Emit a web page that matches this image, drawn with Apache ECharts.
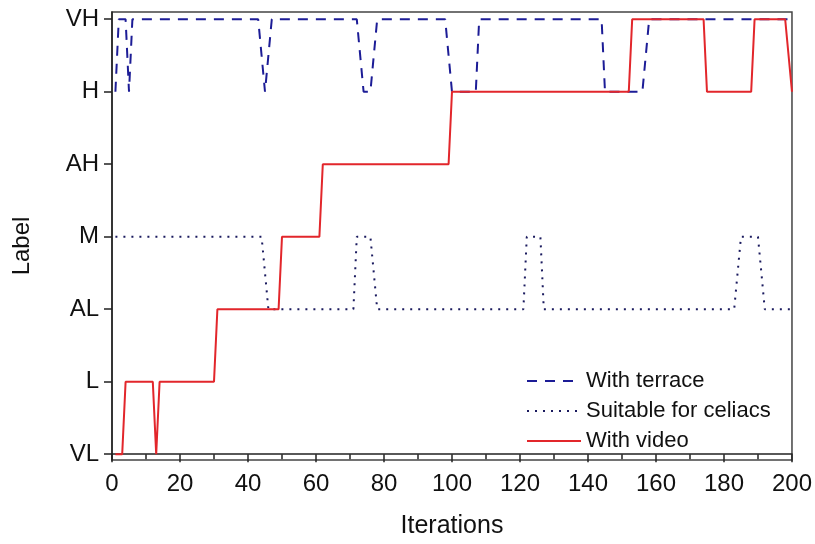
<!DOCTYPE html>
<html>
<head>
<meta charset="utf-8">
<script src="https://cdn.jsdelivr.net/npm/echarts@6/dist/echarts.min.js"></script>
<style>
  html, body { margin: 0; padding: 0; background: #fff; }
  #chart { width: 815px; height: 544px; }
</style>
</head>
<body>
<div id="chart"></div>
<script>
// level names, bottom to top
const levels = ['VL', 'L', 'AL', 'M', 'AH', 'H', 'VH'];
const xTicks = [0, 20, 40, 60, 80, 100, 120, 140, 160, 180, 200];

// breakpoints (iteration, level index)
const terraceX = [1, 2, 4, 5, 6, 43, 45, 47, 72, 74, 76, 78, 98, 100, 107, 108, 144, 145, 156, 158, 200];
const terraceY = [5, 6, 6, 5, 6, 6, 5, 6, 6, 5, 5, 6, 6, 5, 5, 6, 6, 5, 5, 6, 6];

const celiacX = [1, 44, 46, 71, 72, 76, 78, 121, 122, 126, 127, 183, 185, 190, 192, 200];
const celiacY = [3, 3, 2, 2, 3, 3, 2, 2, 3, 3, 2, 2, 3, 3, 2, 2];

const videoX = [1, 3, 4, 12, 13, 14, 30, 31, 49, 50, 61, 62, 99, 100, 152, 153, 174, 175, 188, 189, 198, 200];
const videoY = [0, 0, 1, 1, 0, 1, 1, 2, 2, 3, 3, 4, 4, 5, 5, 6, 6, 5, 5, 6, 6, 5];

function pairs(xs, ys) {
    return xs.map((x, i) => [x, ys[i]]);
}

const myChart = echarts.init(document.getElementById('chart'));
const font = 'Liberation Sans, Arial, sans-serif';
const option = {
    animation: false,
    backgroundColor: '#fff',
    grid: {
        left: 112, right: 22, top: 12, bottom: 81,
        show: true, borderColor: '#444', borderWidth: 1.5
    },
    legend: {
        left: 521, top: 365,
        orient: 'vertical',
        itemWidth: 54, itemHeight: 22, itemGap: 8,
        itemStyle: { opacity: 0 },
        textStyle: { fontFamily: font, fontSize: 22, lineHeight: 22, color: '#111' },
        data: ['With terrace', 'Suitable for celiacs', 'With video']
    },
    xAxis: {
        type: 'value',
        min: 0, max: 200, interval: 20,
        name: 'Iterations',
        nameLocation: 'middle',
        nameGap: 54,
        nameTextStyle: { fontFamily: font, fontSize: 25, color: '#111' },
        axisLine: { lineStyle: { color: '#222', width: 1.5 } },
        axisTick: { length: 8, lineStyle: { color: '#222', width: 1.5 } },
        minorTick: { show: true, splitNumber: 2, length: 5, lineStyle: { color: '#222', width: 1.5 } },
        axisLabel: { fontFamily: font, fontSize: 24, color: '#111', margin: 12,
            customValues: xTicks },
        splitLine: { show: false }
    },
    yAxis: {
        type: 'value',
        min: -0.08, max: 6.1,
        name: 'Label',
        nameLocation: 'middle',
        nameGap: 78,
        nameRotate: 90,
        nameTextStyle: { fontFamily: font, fontSize: 24, color: '#111', padding: [0, 20, 0, 0] },
        axisLine: { show: true, lineStyle: { color: '#222', width: 1.5 } },
        axisTick: { show: true, length: 8, lineStyle: { color: '#222', width: 1.5 },
            customValues: [0, 1, 2, 3, 4, 5, 6] },
        axisLabel: { fontFamily: font, fontSize: 24, color: '#111', margin: 13,
            customValues: [0, 1, 2, 3, 4, 5, 6],
            formatter: v => levels[Math.round(v)] },
        splitLine: { show: false }
    },
    series: [
        {
            name: 'With terrace',
            type: 'line',
            showSymbol: false, symbol: 'none',
            color: '#1c1c96',
            lineStyle: { color: '#1c1c96', width: 2, type: [10, 8] },
            data: pairs(terraceX, terraceY),
            z: 2
        },
        {
            name: 'Suitable for celiacs',
            type: 'line',
            showSymbol: false, symbol: 'none',
            color: '#1a1a5e',
            lineStyle: { color: '#1a1a5e', width: 2, type: [2, 6] },
            data: pairs(celiacX, celiacY),
            z: 2
        },
        {
            name: 'With video',
            type: 'line',
            showSymbol: false, symbol: 'none',
            color: '#e2262b',
            lineStyle: { color: '#e2262b', width: 2 },
            data: pairs(videoX, videoY),
            z: 3
        }
    ]
};
myChart.setOption(option);
</script>
</body>
</html>
